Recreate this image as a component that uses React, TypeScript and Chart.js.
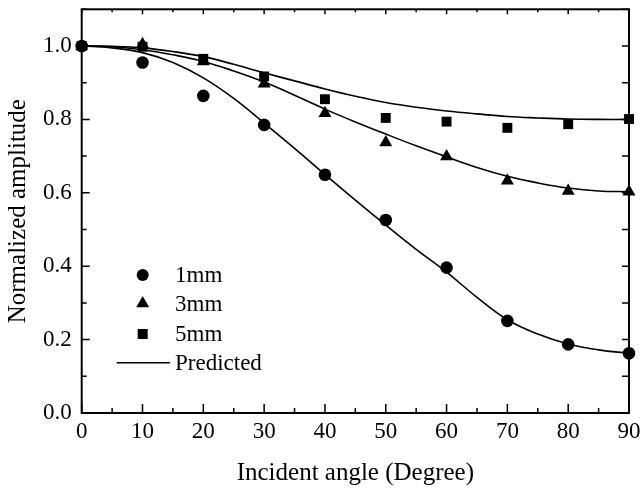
import React, { useEffect, useRef } from "react";
import { Chart, registerables } from "chart.js";

Chart.register(...registerables);

// ---- data ----
const angles = [0, 10, 20, 30, 40, 50, 60, 70, 80, 90];
const amp1mm = [1.0, 0.955, 0.864, 0.785, 0.649, 0.526, 0.396, 0.251, 0.187, 0.163];
const amp3mm = [1.0, 1.005, 0.958, 0.897, 0.817, 0.737, 0.699, 0.633, 0.605, 0.603];
const amp5mm = [1.0, 0.998, 0.965, 0.917, 0.855, 0.804, 0.794, 0.777, 0.787, 0.801];

const predAngles = [0, 5, 10, 15, 20, 25, 30, 35, 40, 45, 50, 55, 60, 65, 70, 75, 80, 85, 90];
const pred1mm = [1.0, 0.995, 0.982, 0.955, 0.913, 0.857, 0.79, 0.721, 0.65, 0.58, 0.512, 0.446, 0.384, 0.315, 0.254, 0.215, 0.188, 0.172, 0.163];
const pred3mm = [1.0, 0.998, 0.99, 0.976, 0.958, 0.932, 0.902, 0.866, 0.828, 0.793, 0.76, 0.728, 0.698, 0.669, 0.645, 0.627, 0.613, 0.605, 0.603];
const pred5mm = [1.0, 0.999, 0.995, 0.985, 0.971, 0.95, 0.927, 0.905, 0.883, 0.863, 0.846, 0.833, 0.823, 0.815, 0.808, 0.804, 0.801, 0.8, 0.8];

const xTickValues = [0, 10, 20, 30, 40, 50, 60, 70, 80, 90];
const yTickValues = [0, 0.2, 0.4, 0.6, 0.8, 1.0];
const xMinorStep = 5;
const yMinorStep = 0.1;
const legendLabels = ["1mm", "3mm", "5mm", "Predicted"];
const xTitle = "Incident angle (Degree)";
const yTitle = "Normalized amplitude";

const FONT = "'Liberation Serif', 'Times New Roman', Times, serif";

const toPts = (xs: number[], ys: number[]) => xs.map((x, i) => ({ x, y: ys[i] }));

const frameTicksPlugin = {
  id: "frameTicks",
  beforeDatasetsDraw(chart: any) {
    const { ctx, chartArea, scales } = chart;
    const { left, right, top, bottom } = chartArea;
    ctx.save();
    ctx.strokeStyle = "#000";
    ctx.lineWidth = 2;
    ctx.strokeRect(left, top, right - left, bottom - top);
    ctx.lineWidth = 1.5;
    ctx.beginPath();
    for (let v = 0; v <= 90 + 1e-9; v += xMinorStep) {
      const px = scales.x.getPixelForValue(v);
      const major = Math.abs(v % 10) < 1e-9;
      const len = major ? 9 : 5;
      ctx.moveTo(px, bottom);
      ctx.lineTo(px, bottom - len);
      ctx.moveTo(px, top);
      ctx.lineTo(px, top + (major ? 5 : 3));
    }
    for (let k = 0; k <= 11; k++) {
      const v = k * yMinorStep;
      const py = scales.y.getPixelForValue(v);
      const major = k % 2 === 0;
      const len = major ? 8 : 5;
      ctx.moveTo(left, py);
      ctx.lineTo(left + len, py);
      ctx.moveTo(right, py);
      ctx.lineTo(right - 7, py);
    }
    ctx.stroke();
    ctx.restore();
  },
  afterDraw(chart: any) {
    const { ctx } = chart;
    ctx.save();
    ctx.fillStyle = "#000";
    ctx.strokeStyle = "#000";
    const mx = 142.7;
    const rows = [275, 303.5, 334, 362.7];
    ctx.beginPath();
    ctx.arc(mx, rows[0], 6, 0, Math.PI * 2);
    ctx.fill();
    const r = 7.5;
    ctx.beginPath();
    ctx.moveTo(mx, rows[1] - r);
    ctx.lineTo(mx + r * Math.sin((2 * Math.PI) / 3), rows[1] + r / 2);
    ctx.lineTo(mx - r * Math.sin((2 * Math.PI) / 3), rows[1] + r / 2);
    ctx.closePath();
    ctx.fill();
    ctx.fillRect(mx - 5, rows[2] - 5, 10, 10);
    ctx.lineWidth = 1.5;
    ctx.beginPath();
    ctx.moveTo(116.7, rows[3]);
    ctx.lineTo(170, rows[3]);
    ctx.stroke();
    ctx.font = `23px ${FONT}`;
    ctx.textBaseline = "middle";
    ctx.textAlign = "left";
    legendLabels.forEach((t, i) => ctx.fillText(t, 175, rows[i] + 1));
    ctx.restore();
  },
};

export default function App() {
  const ref = useRef<HTMLCanvasElement | null>(null);
  useEffect(() => {
    if (!ref.current) return;
    const scatterCommon = {
      showLine: false,
      pointBackgroundColor: "#000",
      pointBorderColor: "#000",
      pointBorderWidth: 0,
      clip: false as any,
    };
    const lineCommon = {
      showLine: true,
      borderColor: "#000",
      borderWidth: 1.6,
      pointRadius: 0,
      pointHoverRadius: 0,
      tension: 0.4,
      fill: false,
    };
    const chart = new Chart(ref.current, {
      type: "scatter",
      data: {
        datasets: [
          { label: "1mm", data: toPts(angles, amp1mm), pointStyle: "circle", pointRadius: 6.3, ...scatterCommon },
          { label: "3mm", data: toPts(angles, amp3mm), pointStyle: "triangle", pointRadius: 7.5, ...scatterCommon },
          { label: "5mm", data: toPts(angles, amp5mm), pointStyle: "rect", pointRadius: 7, ...scatterCommon },
          { label: "Predicted 1mm", data: toPts(predAngles, pred1mm), ...lineCommon },
          { label: "Predicted 3mm", data: toPts(predAngles, pred3mm), ...lineCommon },
          { label: "Predicted 5mm", data: toPts(predAngles, pred5mm), ...lineCommon },
        ] as any,
      },
      options: {
        responsive: false,
        animation: false,
        events: [],
        layout: { padding: { top: 9.3, right: 13, left: 0, bottom: 0 } },
        plugins: { legend: { display: false }, tooltip: { enabled: false } },
        scales: {
          x: {
            type: "linear",
            min: 0,
            max: 90,
            grid: { display: false, drawTicks: false },
            border: { display: false },
            afterBuildTicks: (s: any) => {
              s.ticks = xTickValues.map((v) => ({ value: v }));
            },
            afterFit: (s: any) => {
              s.height = 76;
              s.paddingLeft = 0;
              s.paddingRight = 0;
            },
            ticks: {
              color: "#000",
              font: { family: FONT, size: 23 },
              padding: 5,
              maxRotation: 0,
              callback: (v: any) => String(v),
            },
            title: {
              display: true,
              text: xTitle,
              color: "#000",
              font: { family: FONT, size: 25 },
              padding: { top: 0, bottom: 1 },
            },
          },
          y: {
            type: "linear",
            min: 0,
            max: 1.1,
            grid: { display: false, drawTicks: false },
            border: { display: false },
            afterBuildTicks: (s: any) => {
              s.ticks = yTickValues.map((v) => ({ value: v }));
            },
            afterFit: (s: any) => {
              s.width = 81.7;
              s.paddingTop = 0;
              s.paddingBottom = 0;
            },
            ticks: {
              color: "#000",
              font: { family: FONT, size: 23 },
              padding: 10,
              callback: (v: any) => Number(v).toFixed(1),
            },
            title: {
              display: true,
              text: yTitle,
              color: "#000",
              font: { family: FONT, size: 25 },
              padding: { top: 3, bottom: 0 },
            },
          },
        },
      },
      plugins: [frameTicksPlugin],
    });
    return () => chart.destroy();
  }, []);
  return (
    <div style={{ position: "absolute", left: 0, top: 0, width: 642, height: 489, background: "#fff" }}>
      <canvas ref={ref} width={642} height={489} />
    </div>
  );
}
